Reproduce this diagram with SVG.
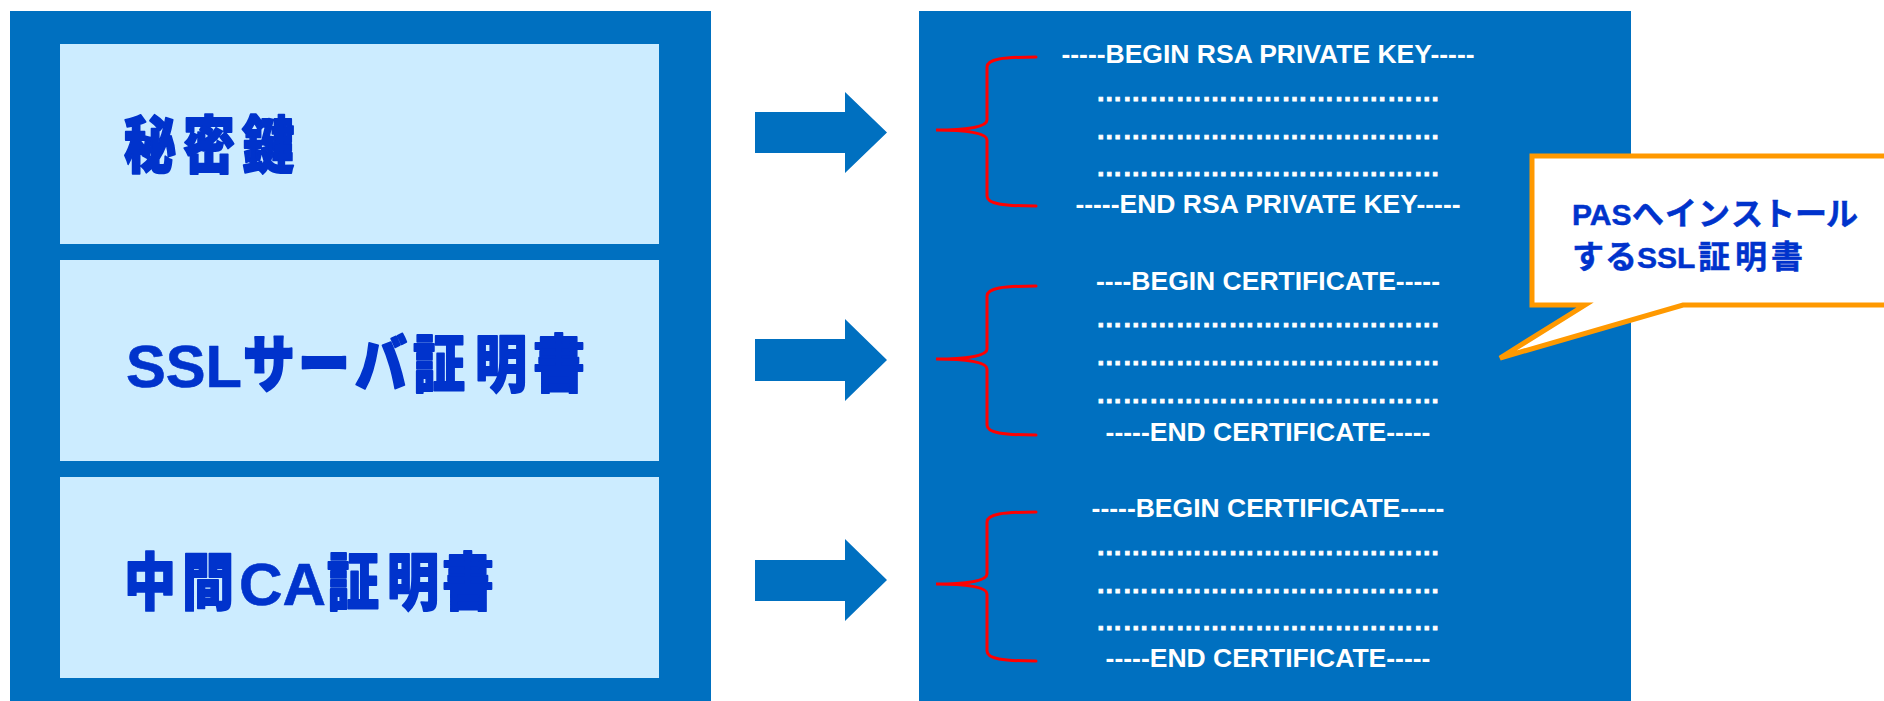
<svg xmlns="http://www.w3.org/2000/svg" width="1884" height="701" viewBox="0 0 1884 701">
<style>
.panel{fill:#0070C0}
.box{fill:#CCECFF}
.lbl{font-family:"Liberation Sans","Noto Sans CJK JP",sans-serif;font-weight:900;font-size:52px;fill:#0033CC;stroke:#0033CC;stroke-width:1.5;stroke-linejoin:round}
.lat{font-size:50px;font-weight:700;stroke-width:0.5}
.code{font-family:"Liberation Sans",Arial,sans-serif;font-weight:700;font-size:26.5px;fill:#FFFFFF;text-anchor:middle}
.dots{font-family:"Liberation Sans",Arial,sans-serif;font-weight:700;font-size:26.5px;fill:#FFFFFF;stroke:#FFFFFF;stroke-width:0.8}
.brace{fill:none;stroke:#FF0000;stroke-width:3;stroke-linecap:round}
.arrow{fill:#0070C0}
.callout{fill:#FFFFFF;stroke:#FF9900;stroke-width:5}
.ct{font-family:"Liberation Sans","Noto Sans CJK JP",sans-serif;font-weight:700;font-size:32px;fill:#0033CC;stroke:#0033CC;stroke-width:0.5}
.ctl{font-size:30px}
</style>
<rect width="1884" height="701" fill="#FFFFFF"/>
<g id="left-panel">
<rect class="panel" x="10" y="11" width="701" height="700"/>
</g>
<g id="node-private-key">
<rect class="box" x="60" y="44" width="599" height="200"/>
<text class="lbl" transform="translate(0,168) scale(1,1.2)" y="0"><tspan x="124">秘</tspan><tspan x="183">密</tspan><tspan x="242">鍵</tspan></text>
</g>
<g id="node-server-cert">
<rect class="box" x="60" y="260" width="599" height="201"/>
<text class="lbl" transform="translate(0,387) scale(1,1.2)" y="0"><tspan class="lat" x="126" textLength="116" lengthAdjust="spacingAndGlyphs">SSL</tspan><tspan x="243">サ</tspan><tspan x="298">ー</tspan><tspan x="355">バ</tspan><tspan x="413">証</tspan><tspan x="475">明</tspan><tspan x="533">書</tspan></text>
</g>
<g id="node-intermediate-cert">
<rect class="box" x="60" y="477" width="599" height="201"/>
<text class="lbl" transform="translate(0,605) scale(1,1.2)" y="0"><tspan x="124">中</tspan><tspan x="182">間</tspan><tspan class="lat" x="239" textLength="87" lengthAdjust="spacingAndGlyphs">CA</tspan><tspan x="327">証</tspan><tspan x="387">明</tspan><tspan x="442">書</tspan></text>
</g>
<g id="node-pem-file">
<rect class="panel" x="919" y="11" width="712" height="700"/>
<path class="brace" d="M1036,57 C1003,57 987,59 987,67 L987,120 C987,127 966,130 936,130 C966,130 987,133 987,140 L987,196 C987,204 1003,206 1036,206"/>
<path class="brace" d="M1036,286 C1003,286 987,288 987,296 L987,349 C987,356 966,359 936,359 C966,359 987,362 987,369 L987,425 C987,433 1003,435 1036,435"/>
<path class="brace" d="M1036,512 C1003,512 987,514 987,522 L987,574 C987,581 966,584 936,584 C966,584 987,587 987,594 L987,651 C987,659 1003,661 1036,661"/>
<text class="code" x="1268" y="63">-----BEGIN RSA PRIVATE KEY-----</text>
<text class="dots" x="1096" y="101" textLength="344" lengthAdjust="spacingAndGlyphs">&#8230;&#8230;&#8230;&#8230;&#8230;&#8230;&#8230;&#8230;&#8230;&#8230;&#8230;&#8230;&#8230;</text>
<text class="dots" x="1096" y="139" textLength="344" lengthAdjust="spacingAndGlyphs">&#8230;&#8230;&#8230;&#8230;&#8230;&#8230;&#8230;&#8230;&#8230;&#8230;&#8230;&#8230;&#8230;</text>
<text class="dots" x="1096" y="176" textLength="344" lengthAdjust="spacingAndGlyphs">&#8230;&#8230;&#8230;&#8230;&#8230;&#8230;&#8230;&#8230;&#8230;&#8230;&#8230;&#8230;&#8230;</text>
<text class="code" x="1268" y="213">-----END RSA PRIVATE KEY-----</text>
<text class="code" x="1268" y="290">----BEGIN CERTIFICATE-----</text>
<text class="dots" x="1096" y="327" textLength="344" lengthAdjust="spacingAndGlyphs">&#8230;&#8230;&#8230;&#8230;&#8230;&#8230;&#8230;&#8230;&#8230;&#8230;&#8230;&#8230;&#8230;</text>
<text class="dots" x="1096" y="365" textLength="344" lengthAdjust="spacingAndGlyphs">&#8230;&#8230;&#8230;&#8230;&#8230;&#8230;&#8230;&#8230;&#8230;&#8230;&#8230;&#8230;&#8230;</text>
<text class="dots" x="1096" y="403" textLength="344" lengthAdjust="spacingAndGlyphs">&#8230;&#8230;&#8230;&#8230;&#8230;&#8230;&#8230;&#8230;&#8230;&#8230;&#8230;&#8230;&#8230;</text>
<text class="code" x="1268" y="441">-----END CERTIFICATE-----</text>
<text class="code" x="1268" y="517">-----BEGIN CERTIFICATE-----</text>
<text class="dots" x="1096" y="555" textLength="344" lengthAdjust="spacingAndGlyphs">&#8230;&#8230;&#8230;&#8230;&#8230;&#8230;&#8230;&#8230;&#8230;&#8230;&#8230;&#8230;&#8230;</text>
<text class="dots" x="1096" y="593" textLength="344" lengthAdjust="spacingAndGlyphs">&#8230;&#8230;&#8230;&#8230;&#8230;&#8230;&#8230;&#8230;&#8230;&#8230;&#8230;&#8230;&#8230;</text>
<text class="dots" x="1096" y="630" textLength="344" lengthAdjust="spacingAndGlyphs">&#8230;&#8230;&#8230;&#8230;&#8230;&#8230;&#8230;&#8230;&#8230;&#8230;&#8230;&#8230;&#8230;</text>
<text class="code" x="1268" y="667">-----END CERTIFICATE-----</text>
</g>
<g id="connectors">
<path class="arrow" d="M755,112 L845,112 L845,92 L887,132.5 L845,173 L845,153 L755,153 Z"/>
<path class="arrow" d="M755,339 L845,339 L845,319 L887,360 L845,401 L845,381 L755,381 Z"/>
<path class="arrow" d="M755,560 L845,560 L845,539 L887,580 L845,621 L845,601 L755,601 Z"/>
</g>
<g id="node-callout">
<path class="callout" d="M1532,156 L1900,156 L1900,305 L1683,305 L1500,358 L1585,305 L1532,305 Z"/>
<text class="ct" y="225"><tspan class="ctl" x="1572">PAS</tspan><tspan x="1632">へ</tspan><tspan x="1665">イ</tspan><tspan x="1698">ン</tspan><tspan x="1731">ス</tspan><tspan x="1763">ト</tspan><tspan x="1795">ー</tspan><tspan x="1826">ル</tspan></text>
<text class="ct" y="268"><tspan x="1572">す</tspan><tspan x="1605">る</tspan><tspan class="ctl" x="1637">SSL</tspan><tspan x="1698">証</tspan><tspan x="1735">明</tspan><tspan x="1771">書</tspan></text>
</g>
</svg>
